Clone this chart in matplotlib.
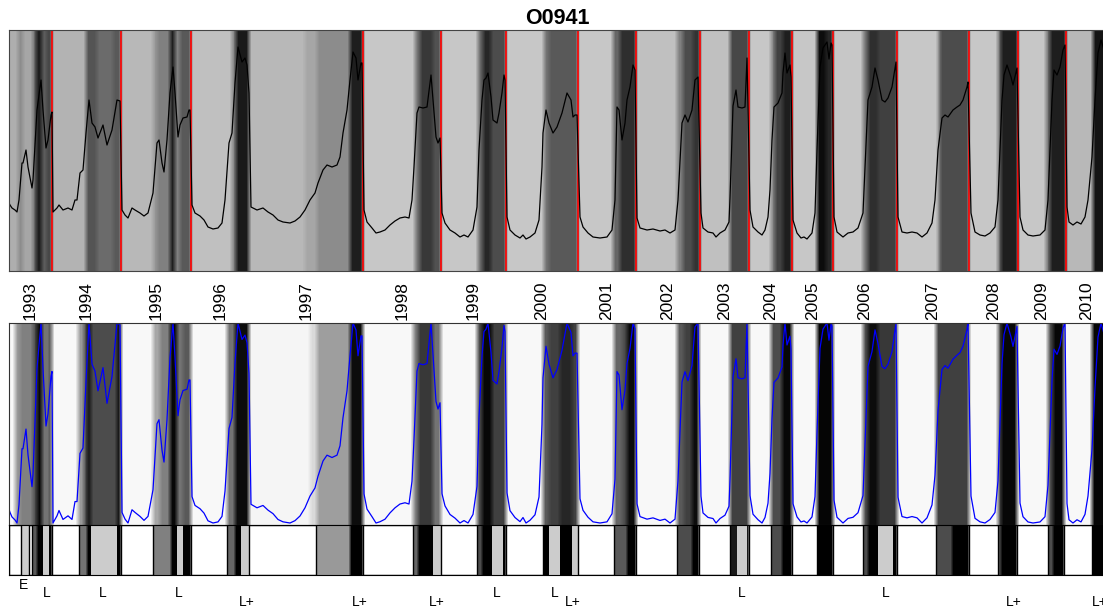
import numpy as np
import matplotlib
matplotlib.use("Agg")
import matplotlib.pyplot as plt
from matplotlib.patches import Rectangle

plt.rcParams['font.family'] = ['Liberation Sans', 'DejaVu Sans']

# season boundaries (sample position) and the year names shown above the lower panel
bounds = [9, 52, 121, 191, 249, 363, 441, 506, 578, 636, 700, 749, 792, 833, 897, 969, 1018, 1066, 1108]
years = ['1993', '1994', '1995', '1996', '1997', '1998', '1999', '2000', '2001',
         '2002', '2003', '2004', '2005', '2006', '2007', '2008', '2009', '2010']
red_marks = [9, 52, 121, 191, 363, 441, 506, 578, 636, 700, 749, 792, 833, 897, 969, 1018, 1066]

# the series
t = [9, 10, 12, 15, 17, 19, 22, 23, 26, 28, 32, 33, 37, 41, 43, 46, 48, 51, 52,
     53, 57, 59, 63, 68, 72, 75, 77, 80, 83, 86, 89, 92, 95, 98, 103, 107, 112, 117, 120,
     122, 125, 128, 132, 135, 140, 144, 148, 153, 157, 159, 162, 164, 167, 170, 173, 175, 178, 180, 183, 187, 189, 190,
     192, 195, 200, 204, 208, 213, 218, 222, 225, 229, 232, 235, 238, 242, 245, 247, 249,
     251, 257, 263, 268, 273, 278, 283, 290, 295, 300, 305, 310, 315, 318, 323, 327, 332, 337, 340, 343, 347, 350, 353, 356, 358, 361, 362,
     364, 367, 372, 376, 380, 385, 390, 395, 400, 405, 409, 412, 414, 417, 419, 423, 427, 431, 433, 436, 438, 440,
     442, 445, 450, 455, 460, 464, 468, 473, 477, 479, 482, 484, 486, 488, 491, 493, 497, 499, 502, 504, 505,
     507, 510, 515, 520, 523, 526, 530, 535, 539, 542, 543, 546, 549, 553, 557, 562, 567, 571, 573, 575, 577,
     580, 583, 588, 593, 600, 607, 612, 615, 617, 619, 622, 625, 627, 630, 633, 635,
     637, 640, 647, 653, 660, 665, 670, 675, 678, 682, 685, 688, 692, 695, 698,
     701, 703, 708, 713, 716, 720, 725, 729, 730, 733, 736, 738, 742, 745, 747,
     750, 753, 758, 762, 765, 768, 770, 772, 774, 778, 782, 783, 785, 787, 790, 791,
     793, 797, 801, 804, 807, 812, 815, 817, 820, 823, 827, 829, 831, 832,
     834, 837, 843, 848, 853, 858, 863, 865, 868, 872, 875, 878, 882, 885, 888, 892, 896,
     898, 902, 907, 912, 917, 922, 927, 932, 935, 938, 942, 945, 948, 953, 957, 960, 963, 967, 968,
     971, 975, 980, 985, 990, 995, 998, 1002, 1004, 1007, 1011, 1013, 1017,
     1020, 1023, 1028, 1033, 1040, 1045, 1048, 1052, 1054, 1057, 1060, 1063, 1065,
     1067, 1069, 1073, 1077, 1081, 1085, 1088, 1092, 1095, 1098, 1101, 1104, 1107]
v = [68, 66, 63, 61, 59, 71, 108, 108, 121, 104, 83, 91, 161, 191, 161, 123, 131, 156, 159,
     59, 63, 66, 61, 63, 61, 71, 71, 98, 101, 138, 171, 148, 144, 133, 146, 126, 141, 171, 170,
     61, 56, 53, 63, 61, 58, 55, 58, 78, 128, 131, 108, 99, 131, 178, 204, 178, 134, 146, 153, 154, 161, 161,
     66, 58, 55, 51, 44, 42, 43, 48, 71, 128, 138, 188, 224, 209, 213, 206, 178,
     64, 61, 63, 59, 56, 51, 49, 48, 50, 54, 61, 71, 78, 88, 101, 106, 104, 106, 114, 138, 161, 191, 219, 213, 191, 208, 208,
     61, 49, 43, 38, 39, 41, 46, 50, 53, 54, 53, 71, 104, 158, 164, 163, 164, 196, 171, 134, 128, 133,
     58, 48, 41, 38, 34, 36, 34, 41, 64, 121, 171, 191, 193, 198, 174, 151, 148, 158, 178, 196, 191,
     54, 41, 36, 33, 36, 32, 34, 38, 51, 104, 138, 161, 148, 138, 144, 158, 178, 171, 154, 156, 156,
     54, 44, 38, 34, 33, 34, 41, 71, 164, 161, 131, 148, 171, 184, 206, 201,
     53, 43, 41, 42, 40, 41, 38, 41, 71, 148, 156, 149, 161, 191, 194,
     58, 43, 39, 38, 34, 38, 41, 49, 73, 165, 181, 164, 163, 164, 213,
     61, 44, 39, 36, 41, 54, 81, 131, 164, 168, 178, 198, 218, 198, 206, 194,
     51, 38, 33, 34, 32, 38, 58, 121, 204, 223, 229, 212, 228, 226,
     54, 39, 34, 38, 39, 43, 58, 104, 171, 184, 203, 191, 171, 169, 173, 184, 209,
     54, 39, 38, 39, 38, 34, 38, 48, 71, 121, 153, 156, 154, 161, 164, 166, 171, 184, 189,
     58, 39, 36, 35, 38, 44, 71, 171, 196, 206, 194, 186, 203,
     54, 41, 36, 35, 36, 41, 71, 171, 201, 196, 204, 221, 226,
     64, 49, 46, 49, 47, 54, 71, 114, 171, 218, 231, 221, 211]

# grey background bands: start position and grey level
top_starts = [9, 18, 23, 33, 36, 42, 46, 52, 86, 97, 113, 121, 153, 157, 170, 175, 180,
              191, 232, 236, 249, 305, 317, 350, 363, 415, 420, 433, 441, 478, 483, 491,
              506, 544, 549, 578, 613, 620, 636, 677, 683, 693, 700, 730, 749, 771, 775, 783,
              792, 817, 826, 833, 863, 868, 878, 897, 938, 940, 969, 998, 1001,
              1018, 1046, 1050, 1066, 1093]
top_greys = [0.68, 0.55, 0.65, 0.42, 0.12, 0.38, 0.28, 0.70, 0.33, 0.42, 0.35, 0.72, 0.60, 0.50, 0.12, 0.50, 0.35,
             0.75, 0.50, 0.10, 0.72, 0.65, 0.55, 0.12, 0.78, 0.45, 0.22, 0.32, 0.78, 0.40, 0.15, 0.30,
             0.78, 0.45, 0.35, 0.78, 0.40, 0.18, 0.75, 0.50, 0.30, 0.20, 0.75, 0.28, 0.78, 0.50, 0.25, 0.12,
             0.78, 0.05, 0.15, 0.78, 0.45, 0.18, 0.25, 0.78, 0.50, 0.30, 0.78, 0.40, 0.12,
             0.78, 0.45, 0.12, 0.72, 0.08]

bot_starts = [9, 15, 20, 33, 37, 42, 50, 52, 78, 84, 87, 91, 117, 121, 153, 160, 170, 177, 183,
              191, 227, 235, 249, 310, 317, 350, 363, 413, 418, 433, 441, 477, 482, 492,
              506, 543, 549, 560, 572, 578, 614, 622, 627, 636, 677, 684, 692, 699, 730,
              749, 771, 782, 792, 817, 833, 863, 868, 878, 897, 936, 969, 998, 1001,
              1017, 1048, 1053, 1064, 1092]
bot_greys = [0.97, 0.60, 0.50, 0.30, 0.03, 0.45, 0.25, 0.97, 0.60, 0.30, 0.08, 0.30, 0.05, 0.97, 0.65, 0.50, 0.03, 0.45, 0.35,
             0.97, 0.45, 0.05, 0.96, 0.85, 0.62, 0.05, 0.97, 0.50, 0.22, 0.45, 0.97, 0.30, 0.03, 0.25,
             0.97, 0.35, 0.25, 0.15, 0.25, 0.97, 0.40, 0.30, 0.05, 0.97, 0.35, 0.25, 0.05, 0.97, 0.25,
             0.97, 0.30, 0.03, 0.97, 0.02, 0.97, 0.30, 0.05, 0.22, 0.97, 0.25, 0.97, 0.30, 0.03,
             0.97, 0.30, 0.03, 0.97, 0.02]

strip_starts = [9, 32, 37, 52, 79, 87, 121, 153, 171, 191, 227, 235, 249, 316, 350, 363, 413, 418,
                441, 477, 482, 506, 543, 578, 614, 627, 636, 677, 692, 699, 730, 749, 771, 782,
                792, 817, 833, 863, 868, 897, 936, 952, 969, 998, 1001, 1017, 1048, 1053, 1064, 1092]
strip_greys = [1.0, 0.35, 0.0, 1.0, 0.45, 0.0, 1.0, 0.5, 0.0, 1.0, 0.4, 0.0, 1.0, 0.6, 0.0, 1.0, 0.4, 0.0,
               1.0, 0.3, 0.0, 1.0, 0.0, 1.0, 0.35, 0.0, 1.0, 0.3, 0.0, 1.0, 0.1, 1.0, 0.3, 0.0,
               1.0, 0.0, 1.0, 0.3, 0.0, 1.0, 0.3, 0.0, 1.0, 0.3, 0.0, 1.0, 0.3, 0.0, 1.0, 0.0]

white_start = [9, 29, 52, 121, 191, 249, 363, 441, 506, 578, 636, 699, 749, 792, 833, 897, 969, 1017, 1064]
white_end = [21, 32, 79, 153, 227, 316, 413, 477, 543, 614, 677, 730, 771, 817, 863, 936, 998, 1048, 1092]
light_start = [21, 43, 91, 177, 241, 433, 492, 549, 572, 737, 878]
light_end = [29, 49, 117, 183, 249, 441, 503, 560, 578, 747, 893]

phase_text = ['E', 'L', 'L', 'L', 'L+', 'L+', 'L+', 'L', 'L', 'L+', 'L', 'L', 'L+', 'L+']
phase_x = [24, 47, 103, 179, 247, 360, 437, 497, 555, 573, 742, 886, 1014, 1100]

X0, X1 = 9, 1108


def band_image(starts, greys, smooth):
    xs = np.arange(X0, X1)
    idx = np.searchsorted(starts, xs, side='right') - 1
    arr = np.asarray(greys, float)[idx]
    if smooth > 1:
        k = np.ones(smooth) / smooth
        padded = np.pad(arr, smooth, mode='edge')
        arr = np.convolve(padded, k, mode='same')[smooth:-smooth]
    return arr[np.newaxis, :]


t_arr = np.array(t)
v_arr = np.array(v, float)

# rescale each season to 0..1 for the lower panel
seg = np.clip(np.searchsorted(bounds, t_arr, side='left') - 1, 0, None)
vn = np.empty_like(v_arr)
for s in np.unique(seg):
    m = seg == s
    lo, hi = v_arr[m].min(), v_arr[m].max()
    vn[m] = (v_arr[m] - lo) / (hi - lo)

W, H = 1103, 610
fig = plt.figure(figsize=(W / 100, H / 100), dpi=100)
left = X0 / W
width = (1107 - X0) / W

ax_top = fig.add_axes([left, 1 - 271 / H, width, 241 / H])
ax_bot = fig.add_axes([left, 1 - 525 / H, width, 202 / H])
ax_strip = fig.add_axes([left, 1 - 575 / H, width, 50 / H])

# upper panel
ax_top.imshow(band_image(top_starts, top_greys, 5), aspect='auto', cmap='gray', vmin=0, vmax=1,
              extent=(X0, X1, 0, 241), interpolation='nearest')
for xr in red_marks:
    ax_top.axvline(xr, color='red', lw=1.2)
ax_top.plot(t_arr, v_arr, color='black', lw=0.9)
ax_top.set_xlim(X0, 1107)
ax_top.set_ylim(0, 241)

# lower panel
ax_bot.imshow(band_image(bot_starts, bot_greys, 5), aspect='auto', cmap='gray', vmin=0, vmax=1,
              extent=(X0, X1, -0.01, 1.0), interpolation='nearest')
ax_bot.plot(t_arr, vn, color='blue', lw=0.9)
ax_bot.set_xlim(X0, 1107)
ax_bot.set_ylim(-0.01, 1.0)

# classification strip
ax_strip.imshow(band_image(strip_starts, strip_greys, 3), aspect='auto', cmap='gray', vmin=0, vmax=1,
                extent=(X0, X1, 0, 1), interpolation='nearest')
for a, b in zip(light_start, light_end):
    ax_strip.add_patch(Rectangle((a, 0), b - a, 1, facecolor='#cccccc', edgecolor='none'))
for a, b in zip(white_start, white_end):
    ax_strip.add_patch(Rectangle((a, 0), b - a, 1, facecolor='white', edgecolor='black', lw=1))
ax_strip.set_xlim(X0, 1107)
ax_strip.set_ylim(0, 1)

for ax in (ax_top, ax_bot, ax_strip):
    ax.set_xticks([])
    ax.set_yticks([])
for sp in ax_top.spines.values():
    sp.set_color('#444444')
for sp in ax_bot.spines.values():
    sp.set_color('#333333')
for sp in ax_strip.spines.values():
    sp.set_color('black')

# year names
for i, yr in enumerate(years):
    xc = (bounds[i] + bounds[i + 1]) / 2
    ax_bot.text(xc, 1 + 3 / 202, yr, rotation=90, ha='center', va='bottom', fontsize=12.5,
                transform=ax_bot.get_xaxis_transform())

# phase labels under the strip; the last one runs off the right edge as in the original
levels = {'E': -0.2, 'L': -0.36, 'L+': -0.54}
for txt, xp in zip(phase_text, phase_x):
    ax_strip.text(xp, levels[txt], txt, ha='center', va='center', fontsize=10,
                  transform=ax_strip.get_xaxis_transform(), clip_on=False)

fig.text(557.5 / W, 1 - 18 / H, 'O0941', ha='center', va='center', fontsize=15.5, fontweight='bold')

fig.savefig('out.png', dpi=100)
